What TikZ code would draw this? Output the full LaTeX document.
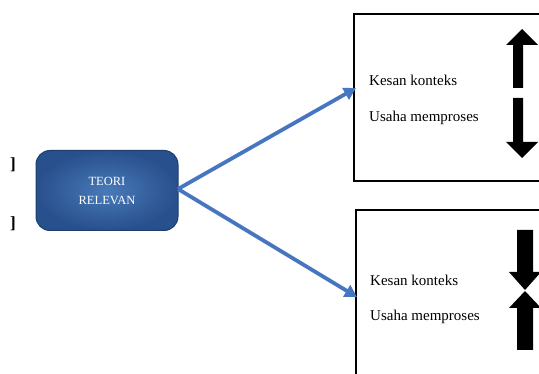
\documentclass[tikz,border=0pt]{standalone}
\usepackage{fontspec}
\setmainfont{Liberation Serif}
\usetikzlibrary{arrows.meta}
\definecolor{conn}{RGB}{70,118,192}
\definecolor{boxblue}{RGB}{40,80,140}
\definecolor{boxlight}{RGB}{72,122,185}
\definecolor{boxedge}{RGB}{30,62,110}
\tikzset{
  conline/.style={conn, line width=3.8pt, -{Triangle[length=12pt,width=13pt]}},
  framebox/.style={draw=black, line width=2.6pt},
  lbl/.style={anchor=base west, font=\fontsize{15}{18}\selectfont, inner sep=0pt},
  teori/.style={rounded corners=14pt, draw=boxedge, line width=1pt, inner color=boxlight, outer color=boxblue,
    minimum width=142pt, minimum height=80pt, text=white, align=center,
    font=\fontsize{12.5}{19}\selectfont},
  frag/.style={font=\fontsize{17}{20}\selectfont\bfseries, anchor=base east, inner sep=0pt},
  bigarrow/.style={fill=black}
}
\begin{document}
\begin{tikzpicture}[x=1pt,y=-1pt]
\useasboundingbox (0,0) rectangle (539,374);
\begin{scope}
\clip (0,0) rectangle (539,374);
% frames
\draw[framebox] (354,14) -- (560,14) -- (560,181) -- (354,181) -- cycle;
\draw[framebox] (356,210) -- (560,210) -- (560,400) -- (356,400) -- cycle;
\end{scope}
% central node
\node[teori] (t) at (107,190.5) {TEORI\\RELEVAN};
\coordinate (src) at (178,189);
\coordinate (up) at (356,88);
\coordinate (dn) at (357,297);
\draw[conline] (src) -- (up);
\draw[conline] (src) -- (dn);
% labels
\node[lbl] (k1) at (369,86) {Kesan konteks};
\node[lbl] (u1) at (369,122) {Usaha memproses};
\node[lbl] (k2) at (370,286) {Kesan konteks};
\node[lbl] (u2) at (370,321) {Usaha memproses};
% left fragments
\node[frag] (b1) at (16,170) {]};
\node[frag] (b2) at (16,229) {]};
% block arrows top
\fill[bigarrow] (513,88) -- (513,45) -- (506,45) -- (522,29) -- (538,45) -- (523,45) -- (523,88) -- cycle;
\fill[bigarrow] (513,98) -- (513,142) -- (506,142) -- (522,158) -- (538,142) -- (523,142) -- (523,98) -- cycle;
% block arrows bottom
\fill[bigarrow] (517,230) -- (517,272) -- (509,272) -- (525,290) -- (541,272) -- (533,272) -- (533,230) -- cycle;
\fill[bigarrow] (517,350) -- (517,308) -- (509,308) -- (525,291) -- (541,308) -- (533,308) -- (533,350) -- cycle;
\end{tikzpicture}
\end{document}
